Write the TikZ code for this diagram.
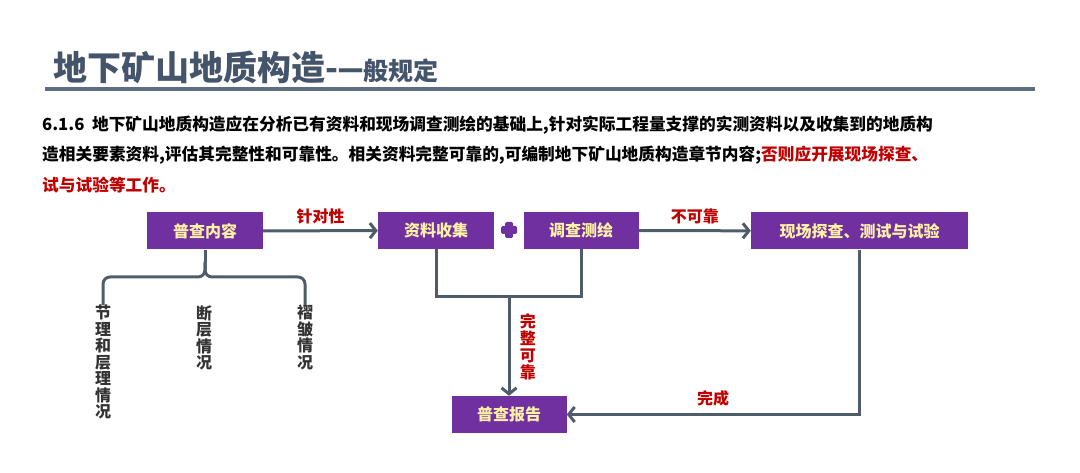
\documentclass[tikz,border=0pt]{standalone}
\usepackage{fontspec}
\usepackage{tikz}
\usetikzlibrary{arrows.meta}
\setmainfont{Noto Sans CJK SC}[BoldFont={Noto Sans CJK SC Black}]
\definecolor{boxpurple}{HTML}{7030A0}
\definecolor{boxtext}{HTML}{FFF1A6}
\definecolor{linegray}{HTML}{4F5D6B}
\definecolor{darkred}{HTML}{C00000}
\definecolor{titlegray}{HTML}{44546A}
\definecolor{rulegray}{HTML}{5D6D82}

\begin{document}
\begin{tikzpicture}[x=1pt,y=-1pt,
  box/.style={fill=boxpurple,text=boxtext,inner sep=0pt,minimum height=37pt,
    font=\bfseries\fontsize{16}{16}\selectfont},
  flow/.style={line width=\lw,linegray,-{Straight Barb[length=6pt,width=15pt]}},
  joint/.style={line width=\lw,linegray},
  redlabel/.style={text=darkred,font=\bfseries\fontsize{16}{17}\selectfont,align=center},
  kind/.style={text=black!80,font=\bfseries\fontsize{16}{16.5}\selectfont,align=center,anchor=north,inner sep=0pt},
  para/.style={anchor=west,inner sep=0pt,font=\bfseries\fontsize{16.7}{17}\selectfont}]

\def\lw{3pt};
\def\boxw{116pt};

\useasboundingbox (0,0) rectangle (1080,473);

% title and rule
\node [anchor=west,inner sep=0pt,text=titlegray,font=\bfseries] (title) at (53,67)
  {{\fontsize{34}{34}\selectfont 地下矿山地质构造-}{\fontsize{25}{25}\selectfont 一般规定}};
\draw [line width=4pt,rulegray] (45,89) -- (1035,89);

% paragraph
\node [para] (p1) at (42,125) {6.1.6\ \ 地下矿山地质构造应在分析已有资料和现场调查测绘的基础上,针对实际工程量支撑的实测资料以及收集到的地质构};
\node [para] (p2) at (42,155) {造相关要素资料,评估其完整性和可靠性。相关资料完整可靠的,可编制地下矿山地质构造章节内容;\textcolor{darkred}{否则应开展现场探查、}};
\node [para,text=darkred] (p3) at (42,185) {试与试验等工作。};

% boxes
\node [box,minimum width=\boxw] (pc) at (205,231) {普查内容};
\node [box,minimum width=\boxw] (zl) at (436,230.5) {资料收集};
\node [box,minimum width=115pt] (dc) at (581,230.5) {调查测绘};
\node [box,minimum width=217pt] (xc) at (859.5,231) {现场探查、测试与试验};
\node [box,minimum width=115pt] (bg) at (509,414.5) {普查报告};

% plus sign
\coordinate (plus) at (509,230);
\fill [boxpurple,rounded corners=1.5pt] (plus) ++(-8,-4) rectangle ++(16,8);
\fill [boxpurple,rounded corners=1.5pt] (plus) ++(-4,-8) rectangle ++(8,16);

% arrows
\draw [flow] (pc) -- (zl) node [midway,above=2pt,redlabel] {针对性};
\draw [flow] (dc) -- (xc) node [midway,above=2pt,redlabel] {不可靠};

\coordinate (merge) at (509,297);
\draw [joint] (zl.south) |- (merge) -| (dc.south);
\draw [flow] (merge) -- (bg.north) node [midway,right=6pt,redlabel] {完\\整\\可\\靠};
\draw [flow] (xc.south) |- (bg.east) node [pos=0.75,above=3pt,redlabel] {完成};

% kinds of structure
\node [kind] (jl) at (103,305) {节\\理\\和\\层\\理\\情\\况};
\node [kind] (dz) at (204,305) {断\\层\\情\\况};
\node [kind] (zz) at (305,305) {褶\\皱\\情\\况};

\coordinate (tip) at (205,262);
\draw [joint,rounded corners=7pt] (jl.north) -- (103,277) -- (205,277) -- (tip);
\draw [joint,rounded corners=7pt] (zz.north) -- (305,277) -- (205,277) -- (tip);
\draw [joint] (tip) -- (pc.south);

\end{tikzpicture}
\end{document}
